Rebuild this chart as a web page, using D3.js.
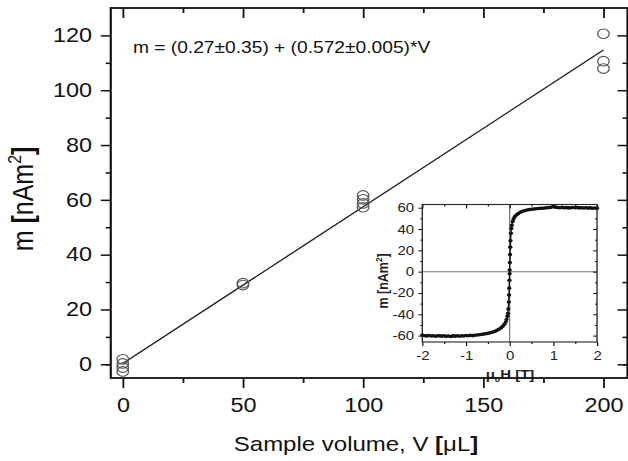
<!DOCTYPE html>
<html>
<head>
<meta charset="utf-8">
<script src="https://cdn.jsdelivr.net/npm/d3@7"></script>
<style>
  body { margin: 0; background: #fff; }
  svg { display: block; font-family: "Liberation Sans", Arial, sans-serif; }
  .tick line { stroke: #111; }
</style>
</head>
<body>
<div id="chart"></div>
<script>
// Main plot: sample volume vs. moment
var volumes = [0, 0, 0, 0, 50, 50, 100, 100, 100, 100, 200, 200, 200];
var moments = [1.8, 0.3, -1.2, -2.6, 28.9, 29.6, 57.3, 58.7, 60.2, 61.6, 120.6, 110.6, 107.9];

// Linear fit, end points
var fitV = [0, 200];
var fitM = [0.27, 114.67];

var xMajor = [0, 50, 100, 150, 200];
var xMinor = [25, 75, 125, 175];
var yMajor = [0, 20, 40, 60, 80, 100, 120];
var yMinor = [-0.001, 10, 30, 50, 70, 90, 110];

// Inset: magnetisation curve
var fieldT = [-2.00, -1.95, -1.90, -1.85, -1.80, -1.75, -1.70, -1.65, -1.60, -1.55,
  -1.50, -1.45, -1.40, -1.35, -1.30, -1.25, -1.20, -1.15, -1.10, -1.05,
  -1.00, -0.95, -0.90, -0.85, -0.80, -0.75, -0.70, -0.65, -0.60, -0.55,
  -0.50, -0.45, -0.40, -0.35, -0.30, -0.25, -0.20, -0.16, -0.12, -0.09,
  -0.07, -0.05, -0.04, -0.03, -0.02, -0.015, -0.01, -0.005, 0.0, 0.0,
  0.005, 0.01, 0.015, 0.02, 0.03, 0.04, 0.05, 0.07, 0.09, 0.12,
  0.16, 0.20, 0.25, 0.30, 0.35, 0.40, 0.45, 0.50, 0.55, 0.60,
  0.65, 0.70, 0.75, 0.80, 0.85, 0.90, 0.95, 1.00, 1.05, 1.10,
  1.15, 1.20, 1.25, 1.30, 1.35, 1.40, 1.45, 1.50, 1.55, 1.60,
  1.65, 1.70, 1.75, 1.80, 1.85, 1.90, 1.95, 2.00];
var momentInset = [-59.5, -60.1, -60.3, -59.9, -60.4, -60.2, -60.6, -60.1, -60.3, -60.5,
  -60.2, -60.7, -60.4, -60.9, -60.3, -60.5, -60.2, -60.6, -60.1, -60.4,
  -59.9, -60.2, -59.8, -60.0, -59.6, -59.4, -59.2, -59.0, -58.6, -58.3,
  -57.9, -57.4, -56.9, -56.2, -55.3, -54.2, -52.8, -51.3, -49.4, -47.2,
  -45.0, -41.8, -39.2, -35.0, -28.5, -22.0, -15.5, -8.0, -2.0, 1.5,
  8.5, 16.0, 23.0, 29.0, 36.0, 40.5, 43.5, 47.0, 49.5, 51.8,
  53.4, 54.6, 55.8, 56.6, 57.3, 57.8, 58.2, 58.5, 58.8, 59.0,
  59.2, 59.4, 59.5, 59.7, 59.9, 60.1, 60.4, 61.2, 60.5, 60.2,
  60.0, 60.3, 59.9, 60.1, 59.8, 60.0, 60.2, 59.9, 60.1, 59.8,
  60.0, 59.7, 59.9, 59.6, 59.8, 59.5, 59.7, 59.4];

var insetXMajor = [-2, -1, 0, 1, 2];
var insetXMinor = [-1.5, -0.5, 0.5, 1.5];
var insetYMajor = [-60, -40, -20, 0, 20, 40, 60];
var insetYMinor = [-50, -30, -10, 10, 30, 50];

var width = 628;
var height = 461;
var stretch = 1.2; // picture is wider than tall

var svg = d3.select("#chart").append("svg")
    .attr("width", width)
    .attr("height", height);

var g = svg.append("g").attr("transform", "scale(" + stretch + ",1)");

var x = d3.scaleLinear().domain([-5, 210]).range([92.3, 522.9]);
var y = d3.scaleLinear().domain([-5, 130]).range([378, 8]);

// plain hyphen minus like the original
var plain = function(d) { return String(d); };

function styleAxis(sel, fs) {
  sel.select(".domain").remove();
  sel.selectAll(".tick line").attr("stroke", "#111").attr("stroke-width", 1.5);
  sel.selectAll(".tick text").attr("fill", "#111").attr("font-size", fs);
}

// main axes
var gx = g.append("g").attr("transform", "translate(0," + y.range()[0] + ")")
    .call(d3.axisBottom(x).tickValues(xMajor).tickSize(10).tickPadding(10).tickFormat(plain));
styleAxis(gx, 19.5);
var gxm = g.append("g").attr("transform", "translate(0," + y.range()[0] + ")")
    .call(d3.axisBottom(x).tickValues(xMinor).tickSize(5).tickFormat(""));
styleAxis(gxm, 19);

var gxt = g.append("g").attr("transform", "translate(0," + y.range()[1] + ")")
    .call(d3.axisTop(x).tickValues(xMajor).tickSize(-10).tickFormat(""));
styleAxis(gxt, 19);
var gxtm = g.append("g").attr("transform", "translate(0," + y.range()[1] + ")")
    .call(d3.axisTop(x).tickValues(xMinor).tickSize(-5).tickFormat(""));
styleAxis(gxtm, 19);

var gy = g.append("g").attr("transform", "translate(" + x.range()[0] + ",0)")
    .call(d3.axisLeft(y).tickValues(yMajor).tickSize(8.3).tickPadding(7.3).tickFormat(plain));
styleAxis(gy, 19.5);
var gym = g.append("g").attr("transform", "translate(" + x.range()[0] + ",0)")
    .call(d3.axisLeft(y).tickValues(yMinor).tickSize(4.2).tickFormat(""));
styleAxis(gym, 19);

var gyr = g.append("g").attr("transform", "translate(" + x.range()[1] + ",0)")
    .call(d3.axisRight(y).tickValues(yMajor).tickSize(-8.3).tickFormat(""));
styleAxis(gyr, 19);
var gyrm = g.append("g").attr("transform", "translate(" + x.range()[1] + ",0)")
    .call(d3.axisRight(y).tickValues(yMinor).tickSize(-4.2).tickFormat(""));
styleAxis(gyrm, 19);

// fit line
var line = d3.line()
    .x(function(d) { return x(d[0]); })
    .y(function(d) { return y(d[1]); });

g.append("path")
    .datum(d3.zip(fitV, fitM))
    .attr("d", line)
    .attr("fill", "none")
    .attr("stroke", "#222")
    .attr("stroke-width", 1.3);

// data circles
g.selectAll("circle.pt")
    .data(d3.zip(volumes, moments))
    .enter().append("circle")
    .attr("class", "pt")
    .attr("cx", function(d) { return x(d[0]); })
    .attr("cy", function(d) { return y(d[1]); })
    .attr("r", 4.8)
    .attr("fill", "none")
    .attr("stroke", "#555")
    .attr("stroke-width", 1.1);

// equation
g.append("text")
    .attr("x", 110.8)
    .attr("y", 53.5)
    .attr("font-size", 16)
    .attr("fill", "#111")
    .text("m = (0.27\u00b10.35) + (0.572\u00b10.005)*V");

// ---- inset ----
var ix = d3.scaleLinear().domain([-2, 2]).range([351.9, 497.5]);
var iy = d3.scaleLinear().domain([-66, 63]).range([342, 204.5]);

var inset = g.append("g");
inset.append("rect")
    .attr("x", ix.range()[0]).attr("y", iy.range()[1])
    .attr("width", ix.range()[1] - ix.range()[0])
    .attr("height", iy.range()[0] - iy.range()[1])
    .attr("fill", "#fff");

// zero lines
inset.append("line")
    .attr("x1", ix.range()[0]).attr("x2", ix.range()[1])
    .attr("y1", iy(0)).attr("y2", iy(0))
    .attr("stroke", "#777").attr("stroke-width", 1);
inset.append("line")
    .attr("x1", ix(0)).attr("x2", ix(0))
    .attr("y1", iy.range()[0]).attr("y2", iy.range()[1])
    .attr("stroke", "#777").attr("stroke-width", 1);

function styleInset(sel) {
  sel.select(".domain").remove();
  sel.selectAll(".tick line").attr("stroke", "#222").attr("stroke-width", 1);
  sel.selectAll(".tick text").attr("fill", "#222").attr("font-size", 12.5);
}

var ib = inset.append("g").attr("transform", "translate(0," + iy.range()[0] + ")")
    .call(d3.axisBottom(ix).tickValues(insetXMajor).tickSize(4).tickPadding(5).tickFormat(plain));
styleInset(ib);
var ibm = inset.append("g").attr("transform", "translate(0," + iy.range()[0] + ")")
    .call(d3.axisBottom(ix).tickValues(insetXMinor).tickSize(2).tickFormat(""));
styleInset(ibm);
var it = inset.append("g").attr("transform", "translate(0," + iy.range()[1] + ")")
    .call(d3.axisTop(ix).tickValues(insetXMajor).tickSize(-4).tickFormat(""));
styleInset(it);
var itm = inset.append("g").attr("transform", "translate(0," + iy.range()[1] + ")")
    .call(d3.axisTop(ix).tickValues(insetXMinor).tickSize(-2).tickFormat(""));
styleInset(itm);
var il = inset.append("g").attr("transform", "translate(" + ix.range()[0] + ",0)")
    .call(d3.axisLeft(iy).tickValues(insetYMajor).tickSize(3.3).tickPadding(3.5).tickFormat(plain));
styleInset(il);
var ilm = inset.append("g").attr("transform", "translate(" + ix.range()[0] + ",0)")
    .call(d3.axisLeft(iy).tickValues(insetYMinor).tickSize(1.7).tickFormat(""));
styleInset(ilm);
var ir = inset.append("g").attr("transform", "translate(" + ix.range()[1] + ",0)")
    .call(d3.axisRight(iy).tickValues(insetYMajor).tickSize(-3.3).tickFormat(""));
styleInset(ir);
var irm = inset.append("g").attr("transform", "translate(" + ix.range()[1] + ",0)")
    .call(d3.axisRight(iy).tickValues(insetYMinor).tickSize(-1.7).tickFormat(""));
styleInset(irm);

var iline = d3.line()
    .x(function(d) { return ix(d[0]); })
    .y(function(d) { return iy(d[1]); });
var ipts = d3.zip(fieldT, momentInset);

inset.append("path")
    .datum(ipts)
    .attr("d", iline)
    .attr("fill", "none")
    .attr("stroke", "#111")
    .attr("stroke-width", 1.2);

inset.selectAll("circle")
    .data(ipts)
    .enter().append("circle")
    .attr("cx", function(d) { return ix(d[0]); })
    .attr("cy", function(d) { return iy(d[1]); })
    .attr("r", 1.8)
    .attr("fill", "#111");

inset.append("rect")
    .attr("x", ix.range()[0]).attr("y", iy.range()[1])
    .attr("width", ix.range()[1] - ix.range()[0])
    .attr("height", iy.range()[0] - iy.range()[1])
    .attr("fill", "none")
    .attr("stroke", "#222")
    .attr("stroke-width", 1.1);

// inset titles
var ixt = inset.append("text")
    .attr("x", 425).attr("y", 379)
    .attr("text-anchor", "middle")
    .attr("font-size", 12.5).attr("font-weight", "bold").attr("fill", "#222");
ixt.append("tspan").text("\u03bc");
ixt.append("tspan").attr("font-size", 8).attr("dy", 3).text("0");
ixt.append("tspan").attr("dy", -3).text("H [T]");

var iyt = inset.append("text")
    .attr("transform", "translate(323.5,281) rotate(-90)")
    .attr("text-anchor", "middle")
    .attr("font-size", 12.5).attr("font-weight", "bold").attr("fill", "#222");
iyt.append("tspan").text("m [nAm");
iyt.append("tspan").attr("font-size", 8).attr("dy", -5).text("2");
iyt.append("tspan").attr("dy", 5).text("]");

// main frame on top
g.append("rect")
    .attr("x", x.range()[0]).attr("y", y.range()[1])
    .attr("width", x.range()[1] - x.range()[0])
    .attr("height", y.range()[0] - y.range()[1])
    .attr("fill", "none")
    .attr("stroke", "#111")
    .attr("stroke-width", 1.8);

// axis titles
var xt = g.append("text")
    .attr("x", 296.7).attr("y", 451)
    .attr("text-anchor", "middle")
    .attr("font-size", 20).attr("fill", "#111");
xt.append("tspan").text("Sample volume, V ");
xt.append("tspan").attr("font-weight", "bold").text("[");
xt.append("tspan").text("\u03bcL");
xt.append("tspan").attr("font-weight", "bold").text("]");

var yt = g.append("text")
    .attr("transform", "translate(27.5,199) rotate(-90)")
    .attr("text-anchor", "middle")
    .attr("font-size", 25).attr("fill", "#111");
yt.append("tspan").text("m ");
yt.append("tspan").attr("font-weight", "bold").text("[");
yt.append("tspan").text("nAm");
yt.append("tspan").attr("font-size", 16).attr("dy", -10).text("2");
yt.append("tspan").attr("font-weight", "bold").attr("dy", 10).text("]");
</script>
</body>
</html>
